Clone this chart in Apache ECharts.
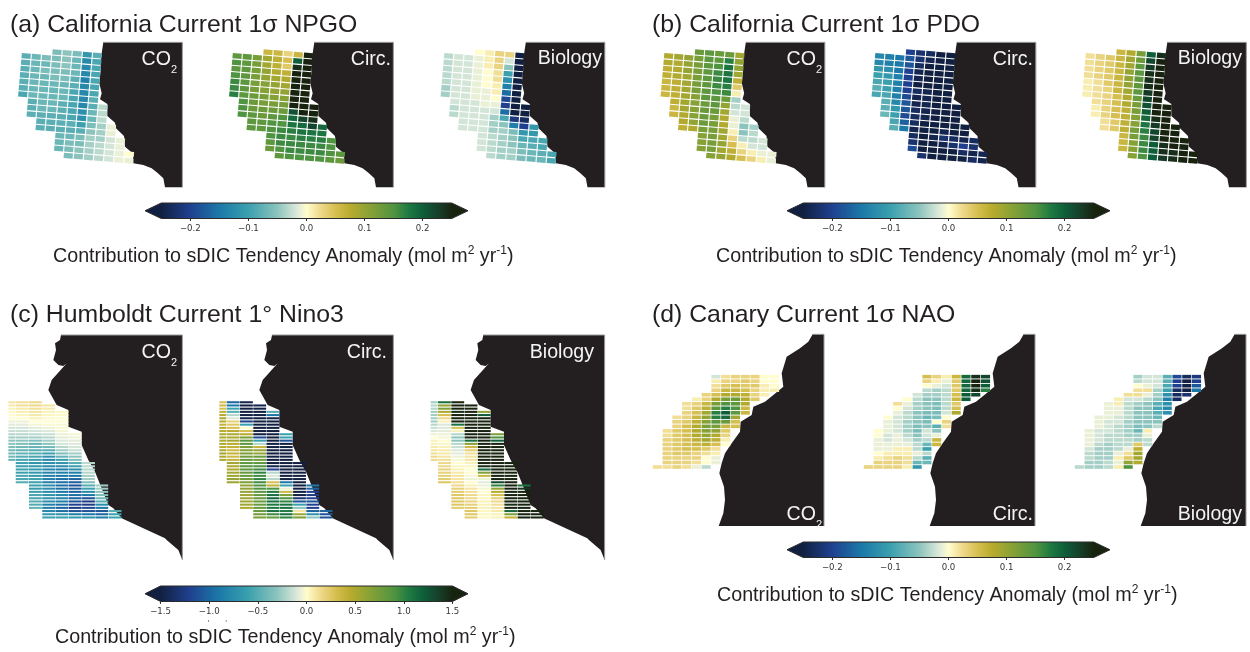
<!DOCTYPE html>
<html><head><meta charset="utf-8">
<style>html,body{margin:0;padding:0;background:#fff}#c{width:1250px;height:652px}</style>
<script src="https://cdn.jsdelivr.net/npm/echarts@6/dist/echarts.min.js"></script>
</head><body><div id="c"></div>
<script>
// ---- first row of each grid column
const californiaStart=[1,1,1,0,0,0,0,0,8,11,13,15];
const humboldtStart=[0,0,0,1,3,10,19,26,34];
const canaryStart=[20,12,9,6,5,4,0,0,0,0,0,0,0];

// ---- California, units 0.01 mol
const npgoCo2=[[-8,-8,-8,-8,-8,-8,-9],[-7,-7,-7,-7,-7,-7,-7,-8,-8,-8],[-6,-7,-6,-7,-7,-7,-7,-7,-7,-8,-8,-8],
[-6,-6,-6,-6,-6,-7,-7,-7,-7,-7,-8,-8,-8],[-5,-5,-5,-6,-6,-7,-7,-7,-8,-8,-8,-8,-8,-7,-7,-7],
[-6,-7,-7,-7,-8,-8,-9,-9,-9,-9,-9,-8,-8,-7,-6,-6,-6],[-11,-13,-13,-13,-14,-13,-13,-13,-13,-12,-12,-10,-8,-6,-6,-5,-5],
[-8,-9,-9,-9,-9,-9,-9,-8,-8,-7,-7,-6,-5,-4,-4,-4,-4],[-3,-3,-3,-4,-4,-4,-3,-3,-3],[-1,-1,-2,-2,-2,-2],[-1,-1,-1,-1],[0,-1]];
const npgoCirc=[[14,15,14,15,16,16,17],[14,14,14,14,14,14,14,15,15,15],[12,12,12,12,12,12,13,13,13,14,14,14],
[6,9,9,10,10,11,11,12,12,13,13,14,14],[6,7,7,8,9,10,10,11,12,13,14,15,15,15,14,13],
[3,5,4,7,8,9,10,11,12,13,15,15,16,16,16,15,14],[6,20,24,25,25,25,25,25,25,21,19,18,17,16,16,16,15],
[25,25,25,25,25,25,25,25,25,25,22,19,18,17,16,16,15],[25,25,24,22,18,17,16,16,15],[19,18,17,16,16,15],[15,15,15,14],[14,13]];
const npgoBio=[[-3,-3,-3,-3,-3,-4,-4],[-2,-2,-2,-2,-2,-2,-2,-2,-3,-3],[-2,-2,-2,-2,-2,-2,-2,-2,-2,-2,-2,-2],
[0,-1,-1,-1,-1,-1,-1,-1,-2,-2,-2,-2,-2],[1,1,1,0,0,0,-1,-1,-1,-2,-2,-2,-2,-2,-2,-2],
[3,3,3,2,2,1,1,0,-1,-2,-4,-4,-4,-3,-3,-3,-3],[3,-2,-5,-10,-12,-14,-16,-19,-20,-16,-9,-5,-4,-4,-4,-4,-4],
[-25,-25,-25,-25,-25,-25,-25,-25,-25,-25,-21,-14,-6,-5,-5,-4,-4],[-25,-25,-23,-20,-11,-9,-7,-6,-6],[-11,-11,-9,-8,-7,-7],[-9,-9,-8,-7],[-9,-9]];
const pdoCo2=[[8,8,7,7,6,6,6],[9,8,8,8,7,7,7,7,6,6],[10,10,10,9,9,9,9,9,9,8,8,7],
[13,12,12,12,12,12,12,11,11,11,11,10,8],[14,14,14,14,14,14,14,14,13,13,13,13,12,11,11,11],
[13,14,15,16,16,16,15,14,14,13,12,12,12,12,12,12,11],[13,17,18,18,18,17,16,13,10,9,8,8,9,9,10,9,10],
[9,10,10,9,7,4,1,-4,-3,-2,-1,-1,1,3,5,7,8],[-2,-2,-3,-5,-5,-3,1,3,5],[-4,-3,-3,-2,1,3],[-2,-2,-1,1],[-1,-1]];
const pdoCirc=[[-13,-13,-11,-10,-9,-8,-9],[-14,-14,-12,-11,-10,-10,-9,-8,-8,-7],[-15,-15,-15,-14,-14,-14,-14,-13,-11,-10,-9,-8],
[-20,-18,-18,-20,-20,-20,-20,-19,-18,-18,-19,-17,-15],[-22,-22,-23,-24,-24,-25,-23,-24,-24,-23,-23,-23,-24,-23,-22,-19],
[-23,-24,-25,-25,-25,-25,-24,-24,-24,-24,-24,-25,-25,-25,-25,-25,-22],[-25,-25,-25,-25,-25,-25,-25,-25,-25,-25,-25,-25,-25,-24,-25,-25,-25],
[-25,-25,-25,-25,-25,-25,-25,-25,-25,-25,-25,-25,-24,-22,-24,-25,-25],[-25,-25,-25,-25,-25,-23,-22,-25,-25],[-25,-25,-24,-20,-23,-25],[-23,-22,-24,-23],[-24,-24]];
const pdoBio=[[2,2,2,2,1,1,1],[3,3,3,3,2,2,2,2,1,1],[4,4,4,4,4,3,3,3,3,3,2,2],
[6,6,6,6,6,6,6,5,5,5,5,4,4],[8,9,9,10,10,10,9,8,8,7,7,7,7,6,6,6],
[12,13,14,14,14,14,14,13,12,12,11,11,12,12,11,11,11],[20,22,23,24,24,24,23,22,21,20,19,18,17,16,16,16,15],
[24,25,25,25,25,25,25,25,25,25,24,23,22,22,20,20,20],[25,25,25,25,25,25,24,24,23],[25,25,25,25,24,24],[25,25,25,25],[25,25]];

// ---- Humboldt, units 0.01 mol
const ninoCo2=[[10,8,5,3,0,0,-5,-8,-12,-15,-20,-25,-30,-30,-35,-40,-40,-40,-45],
[12,12,8,6,3,0,-5,-8,-12,-15,-20,-25,-30,-35,-40,-45,-45,-50,-55,-60,-60,-60,-60,-55,-55,-50],
[15,15,12,10,8,5,0,-3,-8,-12,-18,-25,-35,-45,-45,-50,-50,-55,-60,-70,-65,-65,-65,-65,-60,-60,-60,-65,-60,-55,-55,-50,-50,-45],
[10,8,5,3,2,0,-2,-5,-10,-15,-20,-25,-30,-40,-50,-60,-70,-80,-75,-75,-80,-80,-85,-85,-85,-75,-75,-75,-70,-70,-75,-85,-85,-80,-65,-60],
[3,2,0,0,-2,-2,-3,-5,-8,-10,-12,-20,-25,-35,-45,-60,-70,-75,-85,-85,-90,-95,-95,-95,-95,-90,-80,-80,-85,-95,-100,-95,-70,-60],
[-3,-5,-8,-10,-12,-15,-25,-30,-35,-50,-60,-75,-85,-90,-100,-105,-110,-105,-100,-95,-100,-110,-120,-125,-110,-85,-65],
[-18,-18,-20,-20,-25,-25,-35,-50,-60,-75,-90,-110,-125,-125,-115,-110,-90,-70],
[-25,-25,-30,-35,-40,-50,-75,-90,-110,-100,-85],[-50,-60,-60]];
const ninoCirc=[[30,35,30,40,45,50,45,40,45,45,50,50,50,50,45,50,55,50,50],
[-100,-90,-60,-50,-20,-10,20,25,30,45,50,50,55,45,40,35,40,35,40,55,50,50,55,55,60,55],
[-145,-150,-150,-150,-150,-145,-120,-60,0,30,45,70,85,85,70,65,70,75,80,85,85,85,80,80,75,70,60,60,60,55,55,55,55,50],
[-145,-150,-150,-150,-150,-150,-150,-150,-150,-150,-115,-60,-20,40,60,60,80,75,85,90,95,100,95,100,95,90,90,85,80,80,80,80,80,80,75,70],
[-50,-90,-145,-150,-150,-150,-150,-150,-150,-150,-150,-150,-150,-150,-150,-150,-150,-145,-120,-20,-10,-20,30,40,90,105,110,115,110,105,105,110,95,80],
[-60,-60,-110,-150,-150,-150,-150,-150,-150,-150,-150,-150,-150,-150,-150,-90,-60,-5,35,70,90,100,110,110,105,110,100],
[-150,-150,-150,-150,-150,-150,-150,-150,-150,-150,-150,-130,-110,-60,-30,10,55,70],
[-90,-100,-120,-125,-120,-110,-120,-120,-100,-70,-30],[-100,-110,-110]];
const ninoBio=[[-25,-20,-20,-25,-25,-25,-25,-20,-15,-10,-5,0,5,5,8,10,12,15,15],
[110,60,70,50,30,15,5,-10,-10,-8,-5,-3,0,3,5,8,8,10,12,15,15,18,20,20,22,25],
[150,150,150,145,150,150,150,110,30,5,-20,-30,-30,-20,-15,-10,-8,-5,-3,0,3,5,8,10,10,12,15,20,22,25,25,25,25,22],
[150,150,150,150,150,150,150,150,150,150,150,110,65,35,20,12,10,10,5,3,0,0,-3,-5,0,5,10,12,15,15,18,20,22,25,25,22],
[60,120,150,150,150,150,150,150,150,150,150,150,150,150,150,150,150,145,115,70,35,-5,-8,-5,-3,0,3,3,5,5,5,3,3,2],
[70,90,120,150,150,150,150,150,150,150,150,150,150,150,150,130,100,60,45,30,20,15,12,10,8,5,5],
[150,150,150,150,150,150,150,150,150,150,150,150,150,145,150,115,70,40],
[110,140,150,150,150,150,150,150,150,150,150],[150,150,150]];

// ---- Canary, units 0.01 mol
const naoCo2=[[2],[2,2,3,3,3,3,3,3,2],[2,3,3,4,4,4,4,4,4,3,3,3],[2,2,3,3,4,5,5,5,5,5,5,4,3,3,2],
[1,3,4,5,6,7,8,8,8,7,6,5,3,3,2,-1],[3,3,6,7,9,10,11,12,11,10,9,7,4,2,0,0,-3],
[-2,1,2,3,5,8,12,14,17,17,14,12,10,8,7,5,2,1,-1,-1],[2,3,4,6,8,12,15,17,20,19,13,6,4,3,1,0],
[3,3,5,6,8,13,14,15,14,9,5,5],[3,4,4,5,7,8,8,6,6],[3,3,4,3,3,4],[0,0,1,1,1],[0,0,0,1]];
const naoCirc=[[3],[0,0,-1,-1,-1,0,1,3,3],[0,-1,-1,-1,-2,-2,-1,-1,1,2,3,3],[2,0,-1,-2,-2,-2,-2,-1,-1,-1,1,1,3,3,3],
[0,-1,-2,-3,-3,-4,-4,-4,-3,-2,-1,1,1,2,2,1],[-2,-3,-4,-4,-5,-5,-5,-6,-6,-5,-4,-3,-3,-1,-3,-7,-11],
[5,3,0,-3,-4,-5,-5,-5,-6,-7,-6,-5,-2,-2,-3,-7,-10,-3,-8,-7],[3,1,-1,-4,-4,-5,-6,-6,-6,-6,0,-8,-5,-1,6,6],
[1,-1,-2,-3,-3,-3,-3,-3,-2,0,3,2],[6,4,4,4,5,6,4,5,8],[19,19,19,19,20,20],[24,25,25,24,22],[22,21,20,17]];
const naoBio=[[-3],[-1,-1,-1,-1,-2,-3,-3,-4,-4],[-1,-1,-1,-2,-2,-2,-3,-4,-4,-4,-4,-4],[-1,-1,-1,-1,-2,-2,-2,-3,-3,-4,-4,-4,-4,-3,-3],
[1,1,-1,-1,-2,-2,-3,-3,-3,-3,-3,-3,-1,1,-1,1],[2,-2,-3,-3,-3,-3,-4,-4,-4,-4,-3,-3,-1,2,4,10,15],
[-4,-3,0,2,2,-2,-4,-5,-5,-5,-5,-6,-7,-4,-4,4,7,9,9,8],[-2,-2,-1,2,-1,-3,-5,-5,-5,-5,-5,-5,1,-1,-3,-3],
[-2,-2,-2,-4,-4,-5,-8,-9,-8,-7,-5,-3],[-8,-8,-9,-10,-12,-14,-12,-13,-12],[-19,-20,-20,-23,-23,-23],[-23,-25,-25,-25,-22],[-21,-20,-18,-15]];

// ---- coastlines in map units
const californiaLand=[[310,37],[547,37],[547,472],[495,472],[490,445],[472,428],[455,415],[430,405],[400,400],[398,370],[375,350],[372,318],[348,295],[345,278],[322,258],[322,222],[300,208],[305,190],[298,160],[302,120],[302,90]];
const humboldtLand=[[183,15],[547,15],[547,690],[535,660],[500,630],[495,625],[365,565],[340,535],[325,525],[285,425],[265,390],[245,345],[245,305],[205,290],[205,240],[170,225],[145,180],[155,150],[200,100],[190,108],[175,105],[160,90],[168,60],[165,40],[180,30]];
const canaryLand=[[518,13],[552,13],[552,588],[236,588],[250,550],[255,510],[252,470],[238,430],[245,400],[255,370],[275,340],[300,305],[302,275],[335,255],[340,230],[375,215],[400,195],[430,170],[425,130],[440,80],[480,55],[505,35]];

// ---- colour bar
const colorStops=[[0,'#112040'],[.1,'#20408f'],[.2,'#1b78a8'],[.3,'#3aa0ae'],[.4,'#8cc4bd'],[.47,'#dfeadb'],[.5,'#fffdcd'],[.55,'#eed889'],[.6,'#d6bf50'],[.65,'#b8ab2e'],[.7,'#94a434'],[.8,'#4f9440'],[.85,'#1f7a42'],[.9,'#0e5e3a'],[.95,'#16402a'],[1,'#17230f']];
const ticksSmall=[-0.2,-0.1,0,0.1,0.2];
const ticksLarge=[-1.5,-1,-0.5,0,0.5,1,1.5];

// ---- layout
const F='"Liberation Sans",Arial,sans-serif', INK='#231f20';
const regions={
 california:{start:californiaStart,land:californiaLand,w:600,h:510,ox:80,oy:59,ux:30.3,uy:2.5,vx:-1.67,vy:19.1,gx:.11,gy:.17,unit:.01,max:.25,minX:0},
 humboldt:{start:humboldtStart,land:humboldtLand,w:600,h:690,ox:26.7,oy:216.8,ux:39.8,uy:0,vx:0,vy:9.6,gx:.03,gy:.36,unit:.01,max:1.5,minX:25},
 canary:{start:canaryStart,land:canaryLand,w:600,h:600,ox:52,oy:140,ux:29.3,uy:0,vx:0,vy:13.55,gx:.07,gy:.2,unit:.01,max:.25,minX:0}
};
const panels=[
 {r:'california',v:npgoCo2,l:0,t:30},{r:'california',v:npgoCirc,l:211,t:30},{r:'california',v:npgoBio,l:422.5,t:30},
 {r:'california',v:pdoCo2,l:642.5,t:30},{r:'california',v:pdoCirc,l:853.5,t:30},{r:'california',v:pdoBio,l:1064,t:30},
 {r:'humboldt',v:ninoCo2,l:0,t:330},{r:'humboldt',v:ninoCirc,l:211,t:330},{r:'humboldt',v:ninoBio,l:422.3,t:330},
 {r:'canary',v:naoCo2,l:640,t:330},{r:'canary',v:naoCirc,l:851,t:330},{r:'canary',v:naoBio,l:1062,t:330}
];
const bars=[
 {left:145,top:203,width:323,max:.278,ticks:ticksSmall},
 {left:787,top:203,width:323,max:.278,ticks:ticksSmall},
 {left:145,top:586,width:323,max:1.66,ticks:ticksLarge},
 {left:787,top:542,width:323,max:.278,ticks:ticksSmall}
];

function hex(c){return [1,3,5].map(i=>parseInt(c.slice(i,i+2),16));}
function colorAt(t){
 t=Math.max(0,Math.min(1,t));
 for(let i=1;i<colorStops.length;i++){
  if(t<=colorStops[i][0]){
   const a=colorStops[i-1],b=colorStops[i],f=(t-a[0])/(b[0]-a[0]),A=hex(a[1]),B=hex(b[1]);
   return 'rgb('+A.map((x,k)=>Math.round(x+(B[k]-x)*f)).join(',')+')';
  }
 }
 return colorStops[colorStops.length-1][1];
}

const grid=[],xAxis=[],yAxis=[],series=[];
panels.forEach((p,i)=>{
 const R=regions[p.r];
 grid.push({left:p.l,top:p.t,width:R.w/3,height:R.h/3,outerBoundsMode:'none'});
 xAxis.push({type:'value',gridIndex:i,min:0,max:R.w,show:false});
 yAxis.push({type:'value',gridIndex:i,min:0,max:R.h,inverse:true,show:false});
 const base={type:'custom',xAxisIndex:i,yAxisIndex:i,silent:true,animation:false,clip:false};
 series.push(Object.assign({},base,{z:1,data:[0],renderItem:(ctx,api)=>{
   const pts=R.land.map(q=>api.coord(q));
   return {type:'group',children:[
    {type:'polygon',shape:{points:pts},style:{fill:INK}},
    {type:'polyline',shape:{points:pts.slice(0,3)},style:{fill:null,stroke:'#9a9a9a',lineWidth:1}}
   ]};
 }}));
 const cells=[];
 p.v.forEach((col,c)=>col.forEach((val,k)=>cells.push([c,R.start[c]+k,val*R.unit])));
 series.push(Object.assign({},base,{z:2,data:cells,encode:{x:0,y:1},renderItem:(ctx,api)=>{
   const c=api.value(0),r=api.value(1),v=api.value(2);
   const cx=R.ox+R.ux*c+R.vx*r, cy=R.oy+R.uy*c+R.vy*r;
   const a=.5*(1-R.gx), b=.5*(1-R.gy);
   const pts=[[-a,-b],[a,-b],[a,b],[-a,b]].map(s=>api.coord([
     Math.max(R.minX,cx+s[0]*R.ux+s[1]*R.vx), cy+s[0]*R.uy+s[1]*R.vy]));
   return {type:'polygon',shape:{points:pts},style:{fill:colorAt(.5+v/(2*R.max))}};
 }}));
});
bars.forEach((b,j)=>{
 const i=panels.length+j;
 const lim=b.ticks[b.ticks.length-1]>1?1.5:.25;
 grid.push({left:b.left,top:b.top,width:b.width,height:15.5,outerBoundsMode:'none'});
 const labels=b.ticks;
 xAxis.push({type:'value',gridIndex:i,min:-b.max,max:b.max,position:'bottom',
  splitLine:{show:false},axisLine:{show:false},
  axisTick:{show:true,length:2.5,customValues:labels,lineStyle:{color:'#333',width:1}},
  axisLabel:{show:true,customValues:labels,margin:6,fontSize:8.6,fontFamily:'"DejaVu Sans"',color:'#333',
    formatter:v=>(v<0?'\u2212':'')+Math.abs(v).toFixed(1)}});
 yAxis.push({type:'value',gridIndex:i,min:0,max:1,show:false});
 const stops=colorStops.map(s=>({offset:(b.max-lim+s[0]*2*lim)/(2*b.max),color:s[1]}));
 stops.unshift({offset:0,color:colorStops[0][1]});
 stops.push({offset:1,color:colorStops[colorStops.length-1][1]});
 series.push({type:'custom',xAxisIndex:i,yAxisIndex:i,silent:true,animation:false,clip:false,z:3,data:[0],
  renderItem:(ctx,api)=>{
   const pts=[[-b.max,.5],[-lim,1],[lim,1],[b.max,.5],[lim,0],[-lim,0]].map(q=>api.coord(q));
   return {type:'polygon',shape:{points:pts},style:{stroke:'#2b2b2b',lineWidth:1,
     fill:new echarts.graphic.LinearGradient(0,0,1,0,stops)}};
  }});
});

// ---- text
const graphics=[];
function txt(text,x,y,size,fill,align,rich){
 graphics.push({type:'text',z:10,silent:true,style:{text,x,y:y+1.5,fill,font:size+'px '+F,textAlign:align||'left',textVerticalAlign:'middle',rich}});
}
const titles=[['(a) California Current 1\u03c3 NPGO',10,24],['(b) California Current 1\u03c3 PDO',652,24],['(c) Humboldt Current 1\u00b0 Nino3',10,314],['(d) Canary Current 1\u03c3 NAO',652,314]];
titles.forEach(t=>txt(t[0],t[1],t[2],24.8,INK));
const capRich={m:{fontSize:19.7,fontFamily:'Liberation Sans',fill:INK,lineHeight:24},s:{fontSize:12,fontFamily:'Liberation Sans',fill:INK,verticalAlign:'top',lineHeight:24}};
const caption='{m|Contribution to sDIC Tendency Anomaly (mol m}{s|2}{m| yr}{s|-1}{m|)}';
[[53,255],[716,255],[55,636],[717,594]].forEach(c=>txt(caption,c[0],c[1],19.7,INK,'left',capRich));
const coRich={m:{fontSize:19.6,fontFamily:'Liberation Sans',fill:'#f4f4f4',lineHeight:20},s:{fontSize:11,fontFamily:'Liberation Sans',fill:'#f4f4f4',verticalAlign:'bottom',lineHeight:32}};
const coLabel='{m|CO}{s|2}';
[[177,58],[822,58],[177,351],[822,513]].forEach(c=>txt(coLabel,c[0],c[1],19.6,'#f4f4f4','right',coRich));
[[391,58],[1033,58],[387,351],[1033,513]].forEach(c=>txt('Circ.',c[0],c[1],19.6,'#f4f4f4','right'));
[[602,57],[1242,57],[594,351],[1242,513]].forEach(c=>txt('Biology',c[0],c[1],19.6,'#f4f4f4','right'));
[208,225.7].forEach(x=>graphics.push({type:'rect',z:10,silent:true,shape:{x,y:620.5,width:1,height:1},style:{fill:'#222'}}));

const chart=echarts.init(document.getElementById('c'),null,{renderer:'canvas'});
chart.setOption({animation:false,backgroundColor:'#fff',grid,xAxis,yAxis,series,graphic:graphics});
</script></body></html>
